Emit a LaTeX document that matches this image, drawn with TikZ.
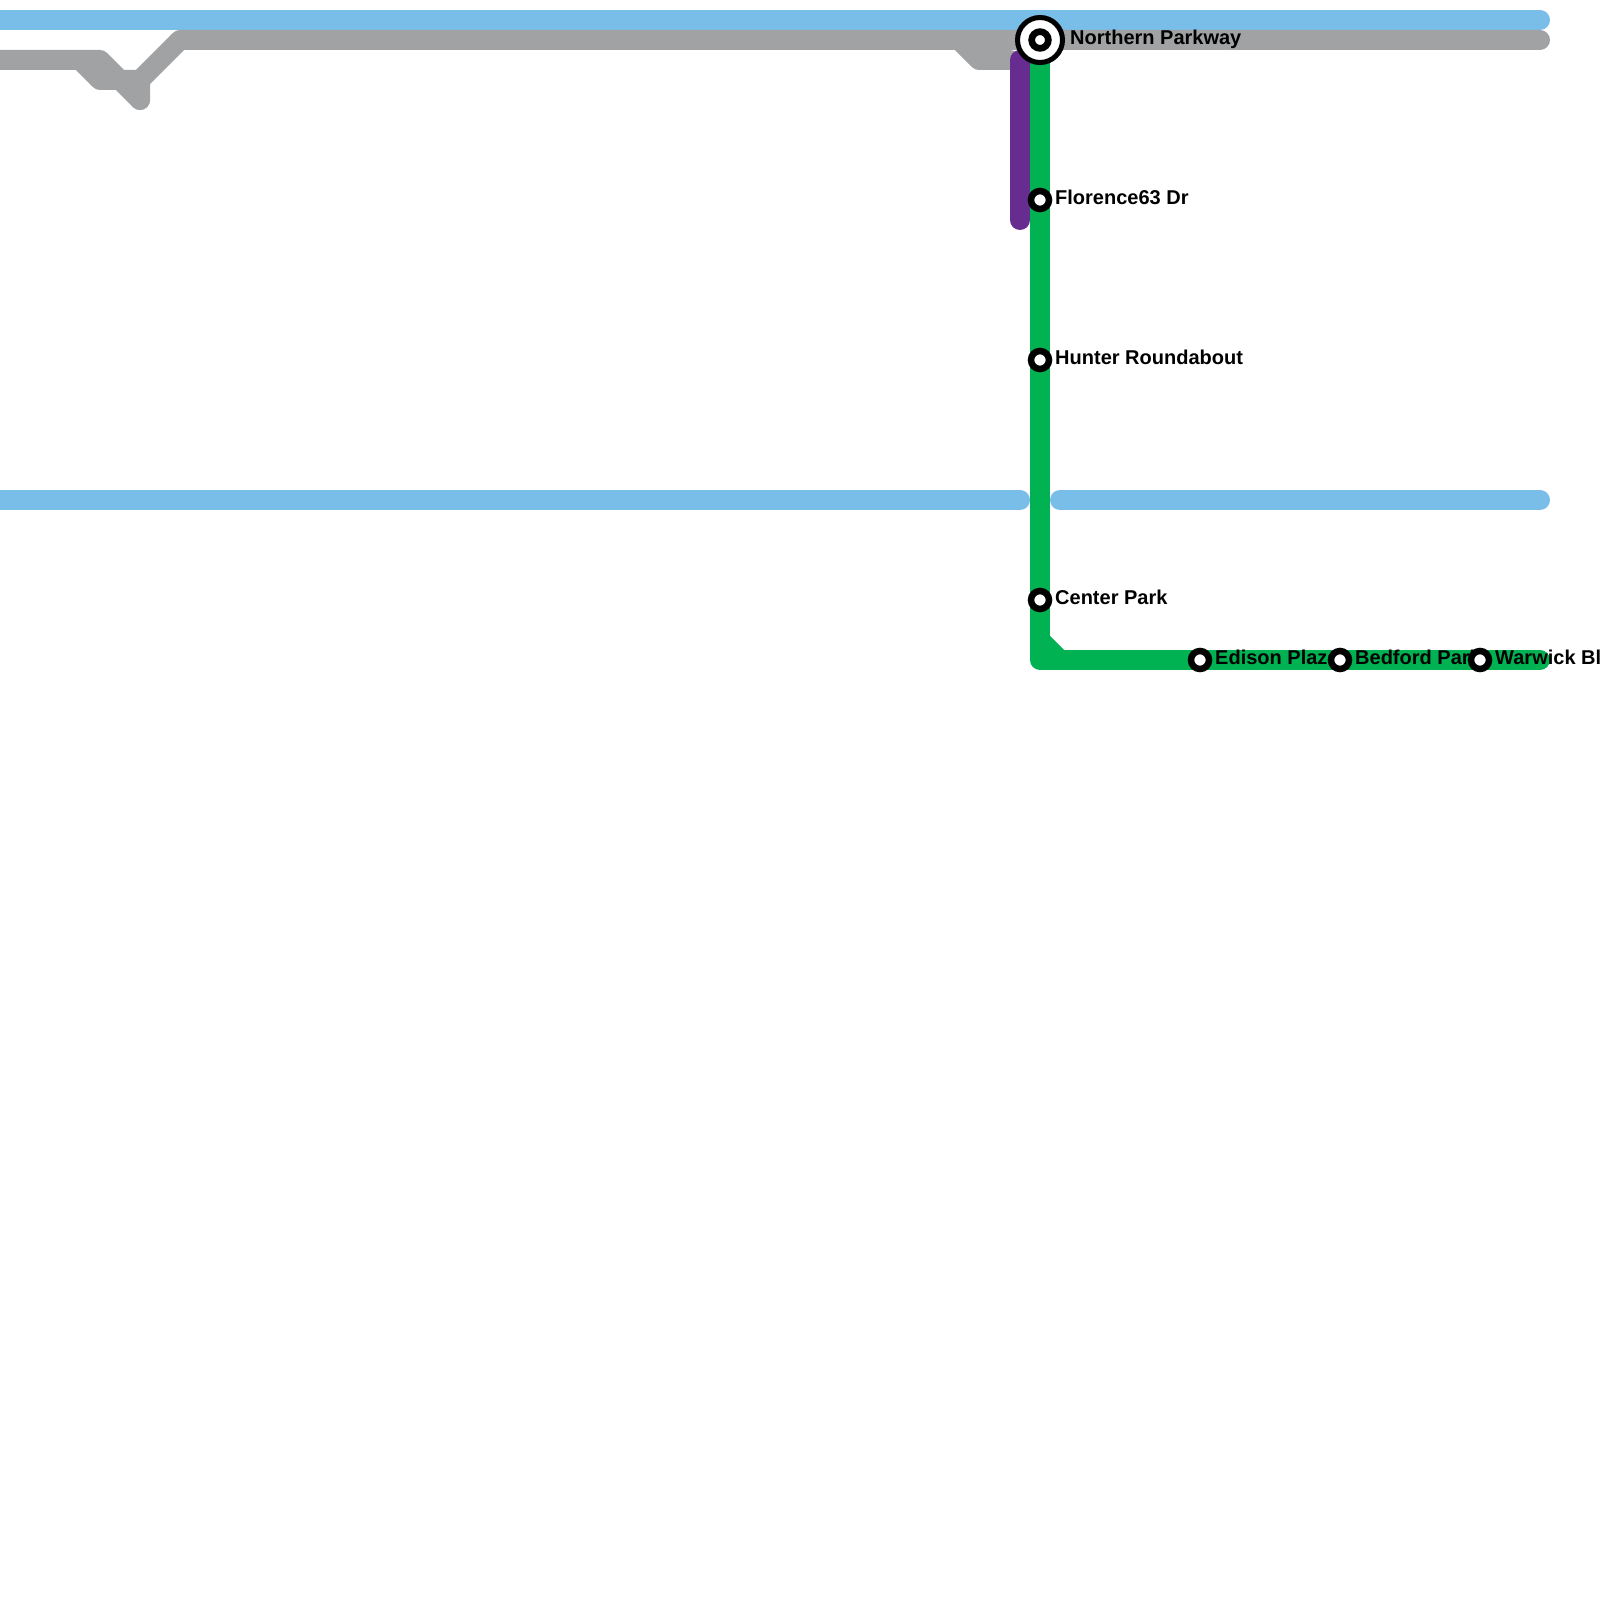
\documentclass[tikz,border=0pt]{standalone}
\usepackage{fontspec}
\setmainfont{Liberation Sans}
\definecolor{mlblue}{HTML}{79BDE9}
\definecolor{mgray}{HTML}{A1A2A3}
\definecolor{mpurple}{HTML}{662C90}
\definecolor{mgreen}{HTML}{00B251}
\begin{document}
\begin{tikzpicture}[x=1pt,y=-1pt,
  route/.style={line width=20pt,line cap=round,line join=round},
  lblue/.style={route,draw=mlblue},
  lgray/.style={route,draw=mgray},
  lpurple/.style={route,draw=mpurple},
  lgreen/.style={route,draw=mgreen},
  stn/.style={circle,draw=black,fill=white,line width=6.5pt,minimum size=18pt,inner sep=0pt},
  lbl/.style={anchor=base west,inner sep=0pt,font=\bfseries\fontsize{20}{24}\selectfont}]
\useasboundingbox (0,0) rectangle (1600,1600);
\clip (0,0) rectangle (1600,1600);
% station positions
\coordinate (pNP) at (1040,40);
\coordinate (pFL) at (1040,200);
\coordinate (pHR) at (1040,360);
\coordinate (pCP) at (1040,600);
\coordinate (pED) at (1200,660);
\coordinate (pBP) at (1340,660);
\coordinate (pWB) at (1480,660);
% light blue lines
\coordinate (b1a) at (-20,20);
\coordinate (b1b) at (1540,20);
\coordinate (b2a) at (-20,500);
\coordinate (b2b) at (1020,500);
\coordinate (b2c) at (1060,500);
\coordinate (b2d) at (1540,500);
\draw[lblue] (b1a) -- (b1b);
\draw[lblue] (b2a) -- (b2b);
\draw[lblue] (b2c) -- (b2d);
% gray lines
\coordinate (g0) at (-20,60);
\coordinate (g1) at (80,60);
\coordinate (g2) at (100,80);
\coordinate (g3) at (120,80);
\coordinate (g4) at (140,100);
\coordinate (g5) at (100,60);
\coordinate (g6) at (140,80);
\coordinate (g7) at (180,40);
\coordinate (g8) at (1540,40);
\coordinate (g9) at (959,40);
\coordinate (g10) at (979,60);
\coordinate (g11) at (1010,60);
\draw[lgray] (g0) -- (g1) -- (g2) -- (g3) -- (g4);
\draw[lgray] (g1) -- (g5) -- (g3) -- (g6);
\draw[lgray] (g4) -- (g6) -- (g7) -- (pNP) -- (g8);
\draw[lgray] (g9) -- (g10) -- (g11);
% purple line
\coordinate (pu1) at (1020,60);
\coordinate (pu2) at (1020,220);
\draw[lpurple] (pu1) -- (pu2);
% green line
\coordinate (gc) at (1040,660);
\coordinate (gc1) at (1040,640);
\coordinate (gc2) at (1060,660);
\coordinate (gend) at (1540,660);
\draw[lgreen] (pNP) -- (pFL) -- (pHR) -- (pCP) -- (gc) -- (pED) -- (pBP) -- (pWB) -- (gend);
\draw[lgreen] (gc1) -- (gc2);
% labels
\node[lbl] (lNP) at (1070,45) {Northern Parkway};
\node[lbl] (lFL) at (1055,204.5) {Florence63 Dr};
\node[lbl] (lHR) at (1055,364.5) {Hunter Roundabout};
\node[lbl] (lCP) at (1055,604.5) {Center Park};
\node[lbl] (lED) at (1215,664.5) {Edison Plaza};
\node[lbl] (lBP) at (1355,664.5) {Bedford Park};
\node[lbl] (lWB) at (1495,664.5) {Warwick Blvd};
% stations
\node[circle,draw=black,fill=white,line width=5pt,minimum size=45pt,inner sep=0pt] (sNP) at (pNP) {};
\node[circle,draw=black,fill=white,line width=6.7pt,minimum size=16.7pt,inner sep=0pt] (sNPi) at (pNP) {};
\node[stn] (sFL) at (pFL) {};
\node[stn] (sHR) at (pHR) {};
\node[stn] (sCP) at (pCP) {};
\node[stn] (sED) at (pED) {};
\node[stn] (sBP) at (pBP) {};
\node[stn] (sWB) at (pWB) {};
\end{tikzpicture}
\end{document}
